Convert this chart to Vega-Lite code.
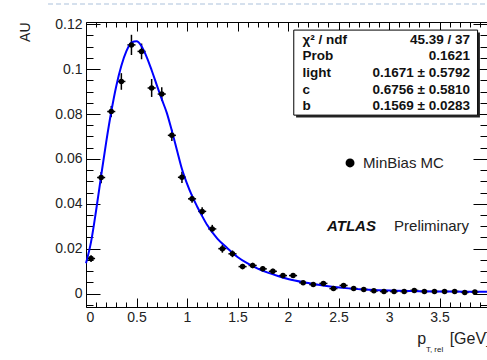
{
  "$schema": "https://vega.github.io/schema/vega-lite/v6.json",
  "width": 401,
  "height": 285,
  "autosize": {"type": "none"},
  "padding": {"left": 86, "top": 22, "right": 0, "bottom": 53},
  "background": "white",
  "config": {
    "view": {"stroke": "#000", "strokeWidth": 1},
    "axis": {
      "domain": false, "grid": false, "tickColor": "#000", "tickWidth": 1,
      "labelFont": "Liberation Sans", "labelFontSize": 14, "labelColor": "#222",
      "titleFont": "Liberation Sans", "titleFontSize": 14, "titleColor": "#222", "titleFontWeight": "normal"
    },
    "text": {"font": "Liberation Sans"}
  },
  "datasets": {
    "pts": [
      {"x": 0.05, "y": 0.0156, "xlo": 0.01, "xhi": 0.09, "ylo": 0.0141, "yhi": 0.0171},
      {"x": 0.15, "y": 0.0517, "xlo": 0.11, "xhi": 0.19, "ylo": 0.0492, "yhi": 0.0542},
      {"x": 0.25, "y": 0.0811, "xlo": 0.21, "xhi": 0.29, "ylo": 0.0786, "yhi": 0.0836},
      {"x": 0.35, "y": 0.0945, "xlo": 0.31, "xhi": 0.39, "ylo": 0.0908, "yhi": 0.0982},
      {"x": 0.45, "y": 0.1108, "xlo": 0.41, "xhi": 0.49, "ylo": 0.1063, "yhi": 0.1153},
      {"x": 0.55, "y": 0.1079, "xlo": 0.51, "xhi": 0.59, "ylo": 0.1044, "yhi": 0.1114},
      {"x": 0.65, "y": 0.0916, "xlo": 0.61, "xhi": 0.69, "ylo": 0.0876, "yhi": 0.0956},
      {"x": 0.75, "y": 0.0889, "xlo": 0.71, "xhi": 0.79, "ylo": 0.0859, "yhi": 0.0919},
      {"x": 0.85, "y": 0.0705, "xlo": 0.81, "xhi": 0.89, "ylo": 0.068, "yhi": 0.073},
      {"x": 0.95, "y": 0.0518, "xlo": 0.91, "xhi": 0.99, "ylo": 0.0493, "yhi": 0.0543},
      {"x": 1.05, "y": 0.0422, "xlo": 1.01, "xhi": 1.09, "ylo": 0.0404, "yhi": 0.044},
      {"x": 1.15, "y": 0.0366, "xlo": 1.11, "xhi": 1.19, "ylo": 0.0348, "yhi": 0.0384},
      {"x": 1.25, "y": 0.0288, "xlo": 1.21, "xhi": 1.29, "ylo": 0.027, "yhi": 0.0306},
      {"x": 1.35, "y": 0.02, "xlo": 1.31, "xhi": 1.39, "ylo": 0.0182, "yhi": 0.0218},
      {"x": 1.45, "y": 0.0177, "xlo": 1.41, "xhi": 1.49, "ylo": 0.0162, "yhi": 0.0192},
      {"x": 1.55, "y": 0.012, "xlo": 1.51, "xhi": 1.59, "ylo": 0.0108, "yhi": 0.0132},
      {"x": 1.65, "y": 0.0125, "xlo": 1.61, "xhi": 1.69, "ylo": 0.0113, "yhi": 0.0137},
      {"x": 1.75, "y": 0.011, "xlo": 1.71, "xhi": 1.79, "ylo": 0.0098, "yhi": 0.0122},
      {"x": 1.85, "y": 0.0099, "xlo": 1.81, "xhi": 1.89, "ylo": 0.0087, "yhi": 0.0111},
      {"x": 1.95, "y": 0.008, "xlo": 1.91, "xhi": 1.99, "ylo": 0.0068, "yhi": 0.0092},
      {"x": 2.05, "y": 0.008, "xlo": 2.01, "xhi": 2.09, "ylo": 0.007, "yhi": 0.009},
      {"x": 2.15, "y": 0.0048, "xlo": 2.11, "xhi": 2.19, "ylo": 0.004, "yhi": 0.0056},
      {"x": 2.25, "y": 0.004, "xlo": 2.21, "xhi": 2.29, "ylo": 0.0032, "yhi": 0.0048},
      {"x": 2.35, "y": 0.0045, "xlo": 2.31, "xhi": 2.39, "ylo": 0.0037, "yhi": 0.0053},
      {"x": 2.45, "y": 0.0022, "xlo": 2.41, "xhi": 2.49, "ylo": 0.0015, "yhi": 0.0029},
      {"x": 2.55, "y": 0.0036, "xlo": 2.51, "xhi": 2.59, "ylo": 0.0029, "yhi": 0.0043},
      {"x": 2.65, "y": 0.0022, "xlo": 2.61, "xhi": 2.69, "ylo": 0.0015, "yhi": 0.0029},
      {"x": 2.75, "y": 0.0018, "xlo": 2.71, "xhi": 2.79, "ylo": 0.0011, "yhi": 0.0025},
      {"x": 2.85, "y": 0.0012, "xlo": 2.81, "xhi": 2.89, "ylo": 0.0006, "yhi": 0.0018},
      {"x": 2.95, "y": 0.0009, "xlo": 2.91, "xhi": 2.99, "ylo": 0.0003, "yhi": 0.0015},
      {"x": 3.05, "y": 0.0009, "xlo": 3.01, "xhi": 3.09, "ylo": 0.0003, "yhi": 0.0015},
      {"x": 3.15, "y": 0.0009, "xlo": 3.11, "xhi": 3.19, "ylo": 0.0003, "yhi": 0.0015},
      {"x": 3.25, "y": 0.0014, "xlo": 3.21, "xhi": 3.29, "ylo": 0.0008, "yhi": 0.002},
      {"x": 3.35, "y": 0.0009, "xlo": 3.31, "xhi": 3.39, "ylo": 0.0003, "yhi": 0.0015},
      {"x": 3.45, "y": 0.0009, "xlo": 3.41, "xhi": 3.49, "ylo": 0.0003, "yhi": 0.0015},
      {"x": 3.55, "y": 0.0009, "xlo": 3.51, "xhi": 3.59, "ylo": 0.0003, "yhi": 0.0015},
      {"x": 3.65, "y": 0.0009, "xlo": 3.61, "xhi": 3.69, "ylo": 0.0003, "yhi": 0.0015},
      {"x": 3.75, "y": 0.0005, "xlo": 3.71, "xhi": 3.79, "ylo": -0.0001, "yhi": 0.0011},
      {"x": 3.85, "y": 0.0007, "xlo": 3.81, "xhi": 3.89, "ylo": 0.0001, "yhi": 0.0013}
    ],
    "fit": [
      {"x": 0.0, "y": 0.0135}, {"x": 0.05, "y": 0.023}, {"x": 0.1, "y": 0.037},
      {"x": 0.15, "y": 0.0525}, {"x": 0.2, "y": 0.0675}, {"x": 0.25, "y": 0.081},
      {"x": 0.3, "y": 0.0925}, {"x": 0.35, "y": 0.1015}, {"x": 0.4, "y": 0.108},
      {"x": 0.45, "y": 0.1118}, {"x": 0.5, "y": 0.1124}, {"x": 0.55, "y": 0.1102},
      {"x": 0.6, "y": 0.1055}, {"x": 0.65, "y": 0.0995}, {"x": 0.7, "y": 0.093},
      {"x": 0.75, "y": 0.0866}, {"x": 0.8, "y": 0.0805}, {"x": 0.85, "y": 0.0725},
      {"x": 0.9, "y": 0.064}, {"x": 0.95, "y": 0.0555}, {"x": 1.0, "y": 0.049},
      {"x": 1.05, "y": 0.0435}, {"x": 1.1, "y": 0.0388}, {"x": 1.15, "y": 0.0345},
      {"x": 1.2, "y": 0.0305}, {"x": 1.3, "y": 0.0245}, {"x": 1.4, "y": 0.0202},
      {"x": 1.5, "y": 0.0163}, {"x": 1.6, "y": 0.0134}, {"x": 1.7, "y": 0.0111},
      {"x": 1.8, "y": 0.0093}, {"x": 1.9, "y": 0.0078}, {"x": 2.0, "y": 0.0065},
      {"x": 2.2, "y": 0.0047}, {"x": 2.4, "y": 0.0032}, {"x": 2.6, "y": 0.0023},
      {"x": 2.8, "y": 0.0017}, {"x": 3.0, "y": 0.0013}, {"x": 3.3, "y": 0.001},
      {"x": 3.6, "y": 0.0009}, {"x": 3.97, "y": 0.0008}
    ]
  },
  "resolve": {"axis": {"x": "independent", "y": "independent"}},
  "layer": [
    {
      "data": {"name": "pts"},
      "mark": {"type": "rule", "color": "#000", "strokeWidth": 1.5},
      "encoding": {
        "x": {"field": "xlo", "type": "quantitative",
          "scale": {"domain": [0, 3.97], "nice": false, "zero": false},
          "axis": {"orient": "bottom", "values": [0, 0.5, 1, 1.5, 2, 2.5, 3, 3.5], "tickSize": -9, "labelPadding": 12, "format": "~g", "title": null}},
        "x2": {"field": "xhi"},
        "y": {"field": "y", "type": "quantitative",
          "scale": {"domain": [-0.006, 0.121], "nice": false, "zero": false},
          "axis": {"orient": "left", "values": [0, 0.02, 0.04, 0.06, 0.08, 0.1, 0.12], "tickSize": -14, "labelPadding": 18, "format": "~g",
            "title": "AU", "titleAngle": -90, "titleAlign": "right", "titleBaseline": "middle", "titleX": -61, "titleY": 0, "titleFontSize": 14}}
      }
    },
    {
      "data": {"name": "pts"},
      "mark": {"type": "rule", "color": "#000", "strokeWidth": 1.5},
      "encoding": {
        "x": {"field": "x", "type": "quantitative",
          "axis": {"orient": "bottom", "values": [0.1,0.2,0.3,0.4,0.6,0.7,0.8,0.9,1.1,1.2,1.3,1.4,1.6,1.7,1.8,1.9,2.1,2.2,2.3,2.4,2.6,2.7,2.8,2.9,3.1,3.2,3.3,3.4,3.6,3.7,3.8,3.9], "tickSize": -5, "labels": false, "title": null}},
        "y": {"field": "ylo", "type": "quantitative",
          "axis": {"orient": "left", "values": [-0.005,0.005,0.01,0.015,0.025,0.03,0.035,0.045,0.05,0.055,0.065,0.07,0.075,0.085,0.09,0.095,0.105,0.11,0.115], "tickSize": -7, "labels": false, "title": null}},
        "y2": {"field": "yhi"}
      }
    },
    {
      "data": {"name": "fit"},
      "mark": {"type": "line", "color": "#0000ff", "strokeWidth": 2, "interpolate": "monotone"},
      "encoding": {
        "x": {"field": "x", "type": "quantitative",
          "axis": {"orient": "top", "values": [0, 0.5, 1, 1.5, 2, 2.5, 3, 3.5], "tickSize": -9, "labels": false, "title": null}},
        "y": {"field": "y", "type": "quantitative",
          "axis": {"orient": "right", "values": [0, 0.02, 0.04, 0.06, 0.08, 0.1, 0.12], "tickSize": -14, "labels": false, "title": null}}
      }
    },
    {
      "data": {"name": "pts"},
      "mark": {"type": "circle", "color": "#000", "size": 30, "opacity": 1},
      "encoding": {
        "x": {"field": "x", "type": "quantitative",
          "axis": {"orient": "top", "values": [0.1,0.2,0.3,0.4,0.6,0.7,0.8,0.9,1.1,1.2,1.3,1.4,1.6,1.7,1.8,1.9,2.1,2.2,2.3,2.4,2.6,2.7,2.8,2.9,3.1,3.2,3.3,3.4,3.6,3.7,3.8,3.9], "tickSize": -5, "labels": false, "title": null}},
        "y": {"field": "y", "type": "quantitative",
          "axis": {"orient": "right", "values": [-0.005,0.005,0.01,0.015,0.025,0.03,0.035,0.045,0.05,0.055,0.065,0.07,0.075,0.085,0.09,0.095,0.105,0.11,0.115], "tickSize": -7, "labels": false, "title": null}}
      }
    },
    {
      "data": {"values": [{}]},
      "mark": {"type": "rect", "color": "#222"},
      "encoding": {
        "x": {"datum": 2.08, "type": "quantitative", "axis": null},
        "x2": {"datum": 3.9},
        "y": {"datum": 0.1163, "type": "quantitative", "axis": null},
        "y2": {"datum": 0.0784}
      }
    },
    {
      "data": {"values": [{}]},
      "mark": {"type": "rect", "fill": "#fff", "stroke": "#000", "strokeWidth": 1},
      "encoding": {
        "x": {"datum": 2.057, "type": "quantitative", "axis": null},
        "x2": {"datum": 3.877},
        "y": {"datum": 0.1174, "type": "quantitative", "axis": null},
        "y2": {"datum": 0.0795}
      }
    },
    {
      "data": {"values": [{}]},
      "mark": {"type": "text", "align": "left", "baseline": "middle", "fontSize": 13.5, "fontWeight": "bold", "color": "#111", "lineHeight": 16.6,
        "text": ["χ² / ndf", "Prob", "light", "c", "b"]},
      "encoding": {
        "x": {"datum": 2.143, "type": "quantitative", "axis": null},
        "y": {"datum": 0.1131, "type": "quantitative", "axis": null}
      }
    },
    {
      "data": {"values": [{}]},
      "mark": {"type": "text", "align": "right", "baseline": "middle", "fontSize": 13.5, "fontWeight": "bold", "color": "#111", "lineHeight": 16.6,
        "text": ["45.39 / 37", "0.1621", "0.1671 ± 0.5792", "0.6756 ± 0.5810", "0.1569 ± 0.0283"]},
      "encoding": {
        "x": {"datum": 3.802, "type": "quantitative", "axis": null},
        "y": {"datum": 0.1131, "type": "quantitative", "axis": null}
      }
    },
    {
      "data": {"values": [{}]},
      "mark": {"type": "point", "shape": "circle", "filled": true, "color": "#000", "size": 80, "opacity": 1},
      "encoding": {
        "x": {"datum": 2.614, "type": "quantitative", "axis": null},
        "y": {"datum": 0.0582, "type": "quantitative", "axis": null}
      }
    },
    {
      "data": {"values": [{}]},
      "mark": {"type": "text", "align": "left", "baseline": "middle", "fontSize": 15, "color": "#222", "text": "MinBias MC"},
      "encoding": {
        "x": {"datum": 2.743, "type": "quantitative", "axis": null},
        "y": {"datum": 0.0582, "type": "quantitative", "axis": null}
      }
    },
    {
      "data": {"values": [{}]},
      "mark": {"type": "text", "align": "left", "baseline": "middle", "fontSize": 15, "fontWeight": "bold", "fontStyle": "italic", "color": "#111", "text": "ATLAS"},
      "encoding": {
        "x": {"datum": 2.386, "type": "quantitative", "axis": null},
        "y": {"datum": 0.0301, "type": "quantitative", "axis": null}
      }
    },
    {
      "data": {"values": [{}]},
      "mark": {"type": "text", "align": "left", "baseline": "middle", "fontSize": 15, "color": "#222", "text": "Preliminary"},
      "encoding": {
        "x": {"datum": 3.05, "type": "quantitative", "axis": null},
        "y": {"datum": 0.0301, "type": "quantitative", "axis": null}
      }
    },
    {
      "data": {"values": [{}]},
      "mark": {"type": "text", "align": "left", "baseline": "alphabetic", "fontSize": 16, "color": "#222", "text": "p"},
      "encoding": {
        "x": {"datum": 3.28, "type": "quantitative", "axis": null},
        "y": {"datum": -0.0225, "type": "quantitative", "axis": null}
      }
    },
    {
      "data": {"values": [{}]},
      "mark": {"type": "text", "align": "left", "baseline": "alphabetic", "fontSize": 8, "color": "#222", "text": "T, rel"},
      "encoding": {
        "x": {"datum": 3.365, "type": "quantitative", "axis": null},
        "y": {"datum": -0.0262, "type": "quantitative", "axis": null}
      }
    },
    {
      "data": {"values": [{}]},
      "mark": {"type": "text", "align": "left", "baseline": "alphabetic", "fontSize": 16, "color": "#222", "text": "[GeV]"},
      "encoding": {
        "x": {"datum": 3.6, "type": "quantitative", "axis": null},
        "y": {"datum": -0.0225, "type": "quantitative", "axis": null}
      }
    },
    {
      "data": {"values": [{}]},
      "mark": {"type": "rule", "color": "#c8d6e8", "strokeWidth": 1.5, "strokeDash": [5, 3]},
      "encoding": {
        "x": {"datum": -0.376, "type": "quantitative", "axis": null},
        "x2": {"datum": 3.97},
        "y": {"datum": 0.129, "type": "quantitative", "axis": null}
      }
    }
  ]
}
